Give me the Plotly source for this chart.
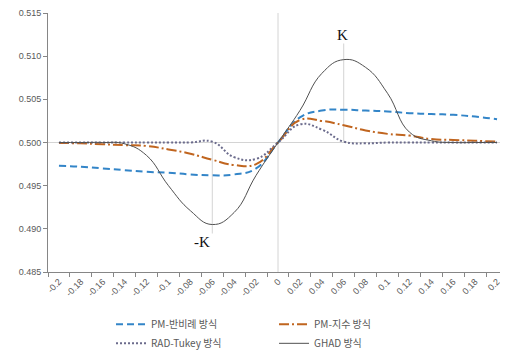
import plotly.graph_objects as go

x_vals = [-0.2, -0.18, -0.16, -0.14, -0.12, -0.1, -0.08, -0.06, -0.04, -0.02, 0,
          0.02, 0.04, 0.06, 0.08, 0.1, 0.12, 0.14, 0.16, 0.18, 0.2]
x_labels = ["-0.2", "-0.18", "-0.16", "-0.14", "-0.12", "-0.1", "-0.08", "-0.06", "-0.04", "-0.02", "0",
            "0.02", "0.04", "0.06", "0.08", "0.1", "0.12", "0.14", "0.16", "0.18", "0.2"]

pm_inverse = [0.4973, 0.4972, 0.4970, 0.4968, 0.4966, 0.4965, 0.4963, 0.4962, 0.4963, 0.4970, 0.5000,
              0.5029, 0.5037, 0.5038, 0.5037, 0.5036, 0.5034, 0.5033, 0.5032, 0.5030, 0.5027]
pm_exp = [0.49995, 0.4999, 0.4998, 0.4997, 0.4996, 0.4992, 0.4987, 0.4980, 0.4974, 0.4975, 0.5000,
          0.5026, 0.5025, 0.5020, 0.5014, 0.5010, 0.5008, 0.5004, 0.5003, 0.5002, 0.5001]
rad_tukey = [0.5000, 0.5000, 0.5000, 0.5000, 0.5000, 0.5000, 0.5000, 0.5001, 0.4983, 0.4981, 0.5000,
             0.5021, 0.5015, 0.5001, 0.4999, 0.5000, 0.5000, 0.5000, 0.5000, 0.5000, 0.5000]
ghad = [0.5000, 0.5000, 0.5000, 0.49985, 0.4985, 0.4950, 0.4921, 0.4905, 0.4919, 0.4962, 0.5000,
        0.5037, 0.5080, 0.5096, 0.5087, 0.5057, 0.5012, 0.5002, 0.5000, 0.5000, 0.5000]

series_names = ["PM-반비례 방식", "PM-지수 방식", "RAD-Tukey 방식", "GHAD 방식"]
k_value = 0.06
k_top = 0.51147
negk_bottom = 0.48946

fig = go.Figure()
styles = [
    dict(color="#3385C8", width=2, dash="7px,4px"),
    dict(color="#C0651F", width=2, dash="10px,3px,2px,3px"),
    dict(color="#6B6B8C", width=2, dash="2px,2px"),
    dict(color="#505050", width=1, dash="solid"),
]
for name, ys, st in zip(series_names, [pm_inverse, pm_exp, rad_tukey, ghad], styles):
    fig.add_trace(go.Scatter(x=x_vals, y=ys, mode="lines", name=name,
                             line=dict(shape="spline", smoothing=1.3, **st)))

grey = "#D4D4D4"
fig.add_shape(type="line", xref="x", yref="y", x0=-0.21, x1=0.21, y0=0.5, y1=0.5,
              line=dict(color=grey, width=1), layer="below")
fig.add_shape(type="line", xref="x", yref="y", x0=0, x1=0, y0=0.485, y1=0.515,
              line=dict(color=grey, width=1), layer="below")
fig.add_shape(type="line", xref="x", yref="y", x0=k_value, x1=k_value, y0=0.5, y1=k_top,
              line=dict(color=grey, width=1), layer="below")
fig.add_shape(type="line", xref="x", yref="y", x0=-k_value, x1=-k_value, y0=0.5, y1=negk_bottom,
              line=dict(color=grey, width=1), layer="below")

fig.add_annotation(x=k_value - 0.001, y=0.5124, text="K", showarrow=False,
                   font=dict(family="Liberation Serif", size=15, color="#111111"))
fig.add_annotation(x=-k_value - 0.009, y=0.48842, text="-K", showarrow=False,
                   font=dict(family="Liberation Serif", size=15, color="#111111"))

tick_font = dict(family="Liberation Sans", size=9, color="#595959")
fig.update_layout(
    width=500, height=342,
    margin=dict(l=40, r=0, t=5, b=78, autoexpand=False),
    plot_bgcolor="white", paper_bgcolor="white",
    showlegend=True,
    legend=dict(orientation="h", x=0.137, xanchor="left", y=-0.146, yanchor="top",
                entrywidth=118, font=dict(family="Noto Sans CJK KR", size=10, color="#595959"),
                itemwidth=30, tracegroupgap=0, bgcolor="rgba(0,0,0,0)"),
    xaxis=dict(range=[-0.21, 0.21], tickmode="array", tickvals=x_vals, ticktext=x_labels,
               tickangle=-45, ticks="", showgrid=False, zeroline=False,
               showline=True, linecolor="#868686", linewidth=1,
               tickfont=tick_font, automargin=False,
               minor=dict(tickmode="linear", tick0=-0.21, dtick=0.02, ticks="outside",
                          ticklen=4, tickcolor="#868686", showgrid=False)),
    yaxis=dict(range=[0.485, 0.515], tickmode="linear", tick0=0.485, dtick=0.005,
               tickformat=".3f", ticks="outside", ticklen=4, tickcolor="#868686",
               showgrid=False, zeroline=False, showline=True, linecolor="#868686",
               linewidth=1, tickfont=tick_font, automargin=False),
)

fig.write_html("out.html")
